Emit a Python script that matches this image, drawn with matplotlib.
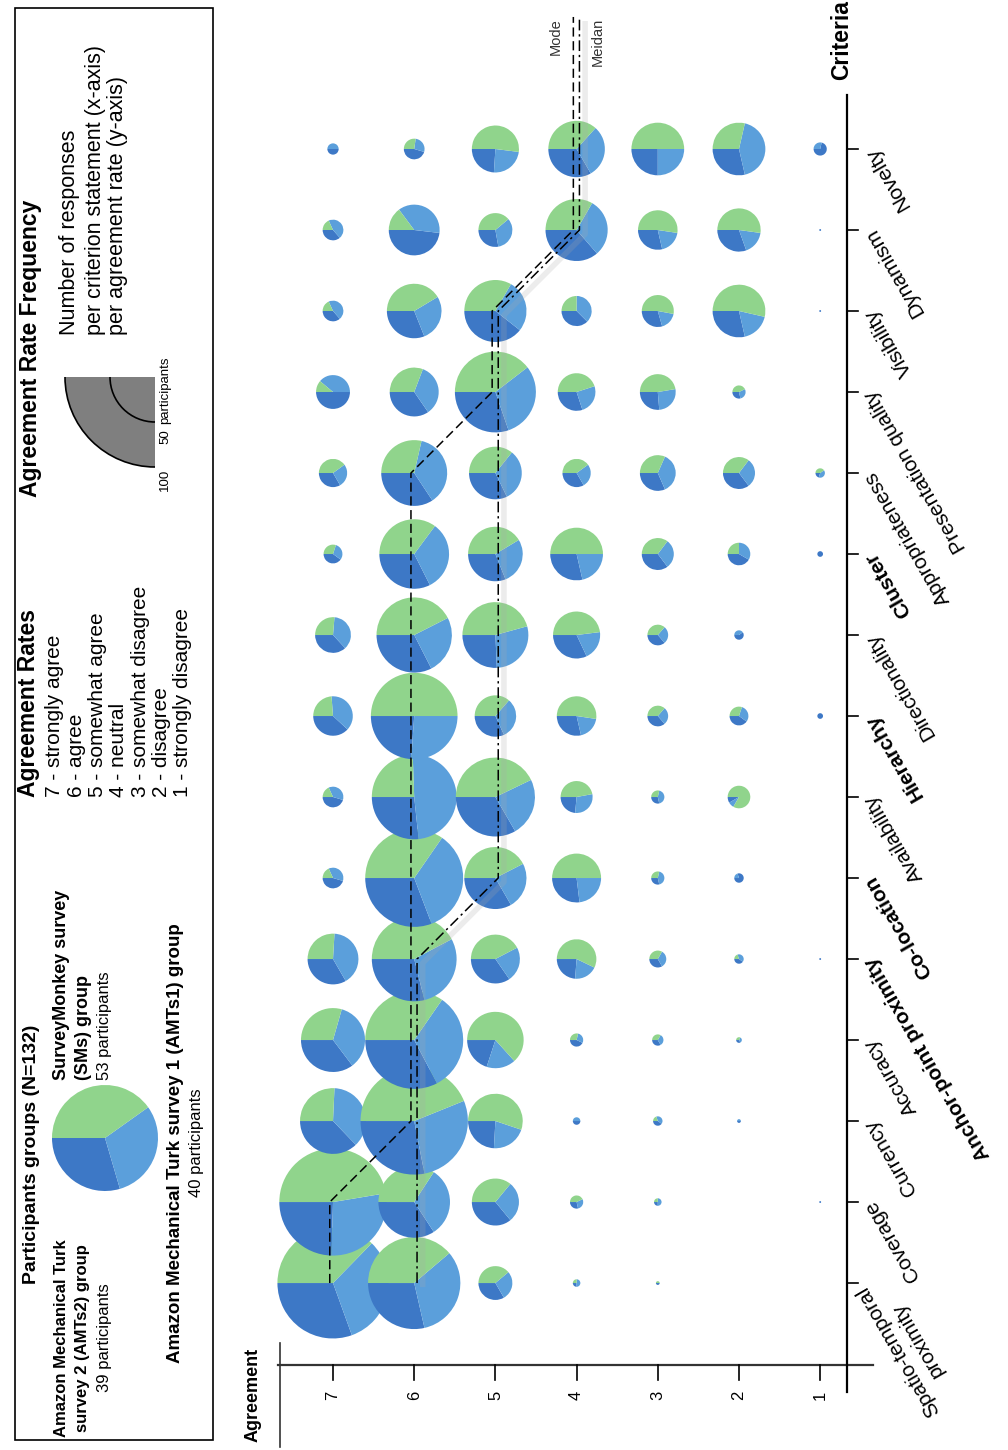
import numpy as np
import matplotlib.pyplot as plt
from matplotlib.patches import Wedge, Rectangle, Arc

plt.rcParams['font.family'] = ['Liberation Sans', 'DejaVu Sans']

# criteria from bottom (first) to top (last)
criteria = ["Spatio-temporal\nproximity", "Coverage", "Currency", "Accuracy",
            "Anchor-point proximity", "Co-location", "Availability", "Hierarchy",
            "Directionality", "Cluster", "Appropriateness", "Presentation quality",
            "Visibility", "Dynamism", "Novelty"]
bold_criteria = ["Anchor-point proximity", "Co-location", "Hierarchy", "Cluster"]
levels = [7, 6, 5, 4, 3, 2, 1]

# responses per criterion (rows) and agreement level 7..1 (columns)
amts2 = [[18, 14, 6, 1, 1, 0, 0], [14, 13, 9, 2, 1, 0, 1], [13, 16, 7, 2, 2, 1, 0],
         [12, 17, 6, 3, 2, 1, 0], [9, 13, 9, 5, 3, 2, 1], [5, 16, 11, 7, 2, 4, 0],
         [5, 12, 14, 4, 2, 1, 0], [8, 11, 7, 6, 4, 4, 3], [7, 13, 9, 8, 4, 3, 0],
         [4, 12, 9, 8, 6, 5, 3], [5, 12, 9, 5, 6, 6, 1], [9, 9, 13, 6, 5, 2, 0],
         [4, 9, 13, 6, 5, 8, 1], [4, 13, 5, 12, 6, 7, 1], [3, 5, 6, 10, 7, 8, 5]]
amts1 = [[19, 16, 5, 2, 0, 0, 0], [16, 12, 7, 2, 2, 0, 0], [13, 16, 6, 2, 2, 1, 0],
         [12, 17, 5, 2, 2, 1, 0], [11, 13, 6, 4, 3, 2, 0], [4, 18, 8, 6, 3, 1, 0],
         [4, 22, 10, 5, 3, 1, 0], [8, 12, 7, 4, 3, 3, 0], [7, 10, 10, 5, 3, 2, 0],
         [3, 12, 8, 6, 5, 4, 0], [4, 13, 9, 4, 7, 5, 2], [7, 9, 13, 5, 5, 2, 0],
         [5, 8, 9, 6, 3, 5, 0], [5, 10, 6, 10, 4, 4, 0], [3, 3, 6, 9, 7, 12, 2]]
sms = [[22, 19, 7, 1, 1, 0, 0], [27, 13, 9, 3, 1, 0, 0], [9, 25, 16, 0, 1, 0, 0],
       [10, 18, 19, 2, 2, 1, 0], [7, 19, 11, 12, 3, 1, 0], [2, 18, 14, 13, 2, 0, 0],
       [2, 11, 18, 8, 2, 10, 0], [5, 23, 8, 11, 4, 3, 0], [5, 17, 16, 12, 4, 0, 0],
       [3, 13, 12, 14, 6, 3, 0], [6, 10, 10, 6, 6, 6, 2], [2, 8, 17, 9, 9, 3, 0],
       [2, 12, 11, 4, 9, 15, 0], [2, 4, 7, 11, 11, 12, 0], [0, 3, 13, 11, 14, 8, 0]]
mode = [7, 7, 6, 6, 6, 6, 6, 6, 6, 6, 6, 5, 5, 4, 4]
median = [6, 6, 6, 6, 6, 5, 5, 5, 5, 5, 5, 5, 5, 4, 4]

group_sizes = [39, 40, 53]   # AMTs2, AMTs1, SMs
colors = ['#3d78c6', '#5b9fdb', '#90d48c']
rate_labels = ["7 - strongly agree", "6 - agree", "5 - somewhat agree", "4 - neutral",
               "3 - somewhat disagree", "2 - disagree", "1 - strongly disagree"]

W, H = 1008, 1450
fig = plt.figure(figsize=(W / 100, H / 100), dpi=100)

# ---- main chart (agreement runs left->right as 7..1, criteria bottom->top)
ax = fig.add_axes([270 / W, 1 - 1400 / H, 630 / W, 1390 / H])
ax.set_xlim(-0.776, 6.983)
ax.set_ylim(-1.444, 15.716)
ax.axis('off')

R = 0.0116  # radius per participant
for i in range(len(criteria)):
    for j, lv in enumerate(levels):
        counts = [amts2[i][j], amts1[i][j], sms[i][j]]
        n = sum(counts)
        if n == 0:
            continue
        start = 180
        for c, col in zip(counts, colors):
            if c == 0:
                continue
            end = start + 360 * c / n
            ax.add_patch(Wedge((7 - lv, i), n * R, start, end, facecolor=col,
                               edgecolor='none', zorder=2))
            start = end

yy = list(range(len(criteria))) + [15.63]
mx = [7 - m - 0.04 for m in mode] + [7 - mode[-1] - 0.04]
dx = [7 - m + 0.035 for m in median] + [7 - median[-1] + 0.035]
ax.plot([x + 0.07 for x in dx], [y - 0.05 for y in yy], color='#aaaaaa', lw=4,
        alpha=0.22, zorder=3, solid_capstyle='butt')
ax.plot(mx, yy, color='k', lw=1.1, ls=(0, (6, 3)), zorder=4)
ax.plot(dx, yy, color='k', lw=1.1, ls=(0, (7, 2.5, 1.5, 2.5)), zorder=4)
ax.text(2.746, 15.62, "Mode", rotation=90, rotation_mode='anchor', ha='right',
        va='center', fontsize=10.5, color='#333333')
ax.text(3.26, 15.62, "Meidan", rotation=90, rotation_mode='anchor', ha='right',
        va='center', fontsize=10.5, color='#333333')

# axes lines in the R style
ax.plot([-0.677, 6.65], [-1.012, -1.012], color='#333333', lw=1.6, clip_on=False)
ax.plot([-0.65, -0.65], [-0.74, -2.02], color='#333333', lw=1.2, clip_on=False)
ax.plot([6.33, 6.33], [-1.346, 14.667], color='k', lw=1.6, clip_on=False)
for lv in levels:
    ax.plot([7 - lv, 7 - lv], [-1.012, -1.2], color='k', lw=1.2)
    ax.text(7 - lv, -1.383, str(lv), rotation=90, ha='center', va='center', fontsize=12)
for i, crit in enumerate(criteria):
    ax.plot([6.33, 6.46], [i, i], color='k', lw=1.2)
    ax.text(6.59, i, crit, rotation=120, rotation_mode='anchor', ha='right',
            va='center_baseline', multialignment='center', fontsize=15,
            fontweight='bold' if crit in bold_criteria else 'normal')

# ---- overlay in pixel units for the legend box and axis titles
ov = fig.add_axes([0, 0, 1, 1])
ov.set_xlim(0, W)
ov.set_ylim(0, H)
ov.axis('off')


def txt(x, y, s, ha='left', size=14, bold=False, color='k'):
    ov.text(x, H - y, s, rotation=90, rotation_mode='anchor', ha=ha, va='center',
            fontsize=size, fontweight='bold' if bold else 'normal', color=color)


ov.add_patch(Rectangle((15, H - 1440), 198, 1432, facecolor='none', edgecolor='k', lw=1.2))
txt(253, 1442, "Agreement", size=13, bold=True)
txt(842, 80, "Criteria", size=16.5, bold=True)

# participants groups
txt(32, 1154, "Participants groups (N=132)", ha='center', size=14, bold=True)
txt(62, 1338, "Amazon Mechanical Turk", ha='center', size=12, bold=True)
txt(83, 1338, "survey 2 (AMTs2) group", ha='center', size=12, bold=True)
txt(104, 1338, "39 participants", ha='center', size=12)
txt(62, 1080, "SurveyMonkey survey", size=13, bold=True)
txt(83, 1080, "(SMs) group", size=13, bold=True)
txt(104, 1080, "53 participants", size=12)
txt(175, 1143, "Amazon Mechanical Turk survey 1 (AMTs1) group", ha='center', size=13.5, bold=True)
txt(196, 1143, "40 participants", ha='center', size=12)
start = 180
for c, col in zip(group_sizes, colors):
    end = start + 360 * c / sum(group_sizes)
    ov.add_patch(Wedge((105, H - 1138), 53, start, end, facecolor=col, edgecolor='none'))
    start = end

# agreement rates
txt(28, 797, "Agreement Rates", size=16.5, bold=True)
for k, lab in enumerate(rate_labels):
    txt(55 + 21.3 * k, 797, lab, size=15)

# agreement rate frequency
txt(30, 497, "Agreement Rate Frequency", size=16.5, bold=True)
txt(70, 335, "Number of responses", size=15.5)
txt(95, 335, "per criterion statement (x-axis)", size=15.5)
txt(118, 335, "per agreement rate (y-axis)", size=15.5)
ov.add_patch(Wedge((155, H - 377), 90, 180, 270, facecolor='#7f7f7f', edgecolor='none'))
ov.add_patch(Arc((155, H - 377), 180, 180, theta1=180, theta2=270, color='k', lw=1.2))
ov.add_patch(Arc((155, H - 377), 90, 90, theta1=180, theta2=270, color='k', lw=1.2))
txt(165, 480, "100", ha='center', size=9.5)
txt(165, 437, "50", ha='center', size=9.5)
txt(165, 424, "participants", ha='left', size=9.5)

fig.savefig("out.png", dpi=100)
